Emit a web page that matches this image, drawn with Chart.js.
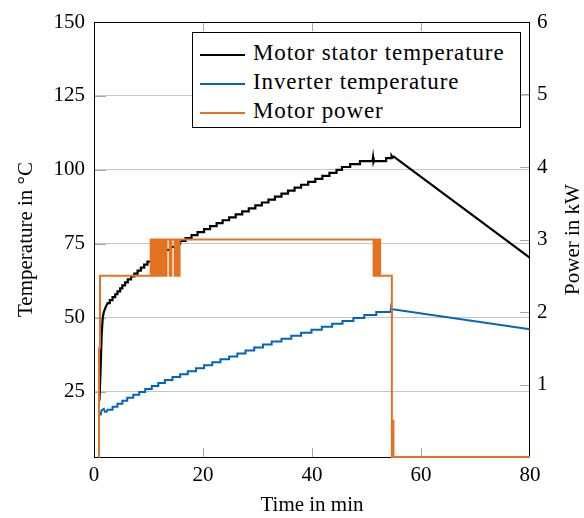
<!DOCTYPE html>
<html>
<head>
<meta charset="utf-8">
<script src="https://cdn.jsdelivr.net/npm/chart.js@4.4.0/dist/chart.umd.min.js"></script>
<style>
  body { margin: 0; background: #fff; }
  #wrap { position: relative; width: 584px; height: 518px; }
  #legend {
    position: absolute; left: 192px; top: 32px; width: 329px; height: 96px;
    box-sizing: border-box; border: 1px solid #000; background: #fff;
    padding-top: 5px; font-family: 'Liberation Serif', serif; font-size: 23px;
    letter-spacing: 0.9px; color: #000;
  }
  #legend div { height: 29px; line-height: 29px; white-space: nowrap; padding-left: 7px; }
  #legend .swatch { display: inline-block; width: 45px; height: 2px; vertical-align: middle; margin-right: 8px; }
</style>
</head>
<body>
<div id="wrap">
  <canvas id="chart" width="584" height="518"></canvas>
  <div id="legend"></div>
</div>
<script>
// motor stator temperature in °C: warm-up, 1 °C steps, then cool-down
const statorRiseTime = [1.0, 1.2, 1.4, 1.6, 1.8, 2.1, 2.5];
const statorRiseTemp = [22, 32, 44, 50, 52, 53.5, 55];
const statorStepTime = [2.9, 3.4, 3.9, 4.3, 4.8, 5.2, 5.7, 6.2, 6.8, 7.4, 8.0, 8.6, 9.2, 9.8, 10.5, 11.3,
  12.2, 13.1, 14.0, 14.9, 15.8, 16.8, 17.9, 19.0, 20.2, 21.3, 22.5, 23.6, 24.8, 26.0, 27.2, 28.4,
  29.6, 30.8, 32.0, 33.2, 34.4, 35.6, 36.8, 38.0, 39.3, 40.6, 41.9, 43.2, 44.5, 45.5, 47.0, 48.8];
const statorStepTemp = [56, 57, 58, 59, 60, 61, 62, 63, 64, 65, 66, 67, 68, 69, 70, 71,
  72, 73, 74, 75, 76, 77, 78, 79, 80, 81, 82, 83, 84, 85, 86, 87,
  88, 89, 90, 91, 92, 93, 94, 95, 96, 97, 98, 99, 100, 101, 102, 103];
const statorTailTime = [51.1, 51.2, 51.3, 51.4, 53.6, 53.6, 54.5, 54.6, 54.8, 55.0, 80];
const statorTailTemp = [103, 104.3, 102.6, 103, 103, 104, 104, 104.8, 104.2, 104.5, 70.3];

// inverter temperature in °C
const inverterRiseTime = [1.2, 1.4, 1.8, 2.0, 2.3, 2.5];
const inverterRiseTemp = [17, 18.8, 19.3, 18.3, 18.3, 19];
const inverterStepTime = [3.4, 4.3, 5.2, 6.1, 7.2, 8.3, 9.4, 10.6, 11.8, 13.0, 14.4, 15.8, 17.2,
  18.7, 20.2, 21.7, 23.2, 24.8, 26.3, 27.8, 29.4, 31.0, 32.6, 34.4, 36.2, 38.0, 39.9, 41.8,
  43.7, 45.6, 47.6, 49.6, 51.8];
const inverterStepTemp = [20, 21, 22, 23, 24, 25, 26, 27, 28, 29, 30, 31, 32,
  33, 34, 35, 36, 37, 38, 39, 40, 41, 42, 43, 44, 45, 46, 47,
  48, 49, 50, 51, 52];
const inverterTailTime = [54.4, 54.5, 54.6, 54.8, 80];
const inverterTailTemp = [52, 53.4, 52.6, 52.9, 46.2];

// motor power in kW, each value holds from its time on
const powerTime = [0.9, 0.92, 1.1,
  10.4, 10.5, 10.6, 10.7, 10.8, 10.9, 11.0, 11.1, 11.2, 11.3, 11.4, 11.5, 11.6, 11.7, 11.8,
  12.1, 12.2, 12.3, 12.4, 12.5, 12.6,
  12.8, 12.9, 13.0, 13.1, 13.2, 13.3, 13.45,
  13.9, 14.0, 14.1, 14.2, 14.35,
  14.8, 14.9, 15.0, 15.1, 15.2, 15.3, 15.4, 15.5, 15.6, 15.7, 15.8,
  51.3, 51.4, 51.5, 51.6, 51.7, 51.8, 51.9, 52.0, 52.1, 52.2, 52.3, 52.4, 52.5,
  54.65, 54.8, 54.95, 80];
const powerKW = [0, 1.5, 2.5,
  3, 2.5, 3, 2.5, 3, 2.5, 3, 2.5, 3, 2.5, 3, 2.5, 3, 2.5, 3,
  2.5, 3, 2.5, 3, 2.5, 3,
  2.5, 3, 2.5, 3, 2.5, 3, 3,
  2.5, 3, 2.5, 3, 3,
  2.5, 3, 2.5, 3, 2.5, 3, 2.5, 3, 2.5, 3, 3,
  2.5, 3, 2.5, 3, 2.5, 3, 2.5, 3, 2.5, 3, 2.5, 3, 2.5,
  0, 0.5, 0, 0];

const timeTicks = [0, 20, 40, 60, 80];
const tempTicks = [25, 50, 75, 100, 125, 150];
const powerTicks = [1, 2, 3, 4, 5, 6];

const serif = 'Liberation Serif';

function stairs(rampT, rampV, stepT, stepV, tailT, tailV) {
  const pts = rampT.map((t, i) => ({ x: t, y: rampV[i] }));
  let prev = rampV[rampV.length - 1];
  stepT.forEach((t, i) => {
    pts.push({ x: t, y: prev }, { x: t, y: stepV[i] });
    prev = stepV[i];
  });
  tailT.forEach((t, i) => pts.push({ x: t, y: tailV[i] }));
  return pts;
}

const statorPoints = stairs(statorRiseTime, statorRiseTemp, statorStepTime, statorStepTemp, statorTailTime, statorTailTemp);
const inverterPoints = stairs(inverterRiseTime, inverterRiseTemp, inverterStepTime, inverterStepTemp, inverterTailTime, inverterTailTemp);
const powerPoints = powerTime.map((t, i) => ({ x: t, y: powerKW[i] }));

// box around the plot and short inward tick marks
const frame = {
  id: 'frame',
  beforeDatasetsDraw(chart) {
    const { ctx, chartArea: a, scales } = chart;
    const len = 9;
    ctx.save();
    ctx.lineWidth = 1;
    ctx.strokeStyle = '#a6a6a6';
    ctx.beginPath();
    scales.x.ticks.forEach(t => {
      const px = Math.round(scales.x.getPixelForValue(t.value)) + 0.5;
      if (px < a.left + 2 || px > a.right - 2) return;
      ctx.moveTo(px, a.bottom); ctx.lineTo(px, a.bottom - len);
      ctx.moveTo(px, a.top); ctx.lineTo(px, a.top + len);
    });
    scales.y.ticks.forEach(t => {
      const py = Math.round(scales.y.getPixelForValue(t.value)) + 0.5;
      ctx.moveTo(a.left, py); ctx.lineTo(a.left + len + 3, py);
    });
    scales.y1.ticks.forEach(t => {
      const py = Math.round(scales.y1.getPixelForValue(t.value)) + 0.5;
      ctx.moveTo(a.right, py); ctx.lineTo(a.right - len - 1, py);
    });
    ctx.stroke();
    ctx.strokeStyle = '#000';
    ctx.strokeRect(a.left + 0.5, a.top + 0.5, a.right - a.left - 1, a.bottom - a.top);
    ctx.restore();
  },
  afterDraw(chart) {
    // right axis title, reading bottom to top
    const { ctx, chartArea: a } = chart;
    ctx.save();
    ctx.translate(chart.width - 11, (a.top + a.bottom) / 2);
    ctx.rotate(-Math.PI / 2);
    ctx.font = '21px "' + serif + '"';
    ctx.fillStyle = '#000';
    ctx.textAlign = 'center';
    ctx.textBaseline = 'middle';
    ctx.fillText('Power in kW', 0, 0);
    ctx.restore();
  }
};

const tickFont = { family: serif, size: 21 };
const titleFont = { family: serif, size: 21, lineHeight: 1.15 };

const chart = new Chart(document.getElementById('chart'), {
  type: 'line',
  data: {
    datasets: [
      { label: 'Motor stator temperature', data: statorPoints, yAxisID: 'y', borderColor: '#000000', borderWidth: 2.2, order: 2 },
      { label: 'Inverter temperature', data: inverterPoints, yAxisID: 'y', borderColor: '#0065BD', order: 1 },
      { label: 'Motor power', data: powerPoints, yAxisID: 'y1', borderColor: '#E37222', stepped: 'before', clip: false, order: 0 }
    ]
  },
  options: {
    responsive: false,
    animation: false,
    devicePixelRatio: 1,
    layout: { padding: { top: 22, left: 0, right: 0, bottom: 0 } },
    elements: {
      point: { radius: 0 },
      line: { borderWidth: 2, tension: 0 }
    },
    plugins: { legend: { display: false }, tooltip: { enabled: false } },
    scales: {
      x: {
        type: 'linear', min: 0, max: 80,
        afterBuildTicks: s => { s.ticks = timeTicks.map(v => ({ value: v })); },
        afterFit: s => { s.height = 61; },
        grid: { display: false, drawTicks: false },
        border: { display: false },
        ticks: { color: '#000', font: tickFont, padding: 6, maxRotation: 0 },
        title: { display: true, text: 'Time in min', color: '#000', font: titleFont, padding: 0 }
      },
      y: {
        type: 'linear', position: 'left', min: 3, max: 150,
        afterBuildTicks: s => { s.ticks = tempTicks.map(v => ({ value: v })); },
        afterFit: s => { s.width = 94; },
        grid: { color: '#c6c6c6', lineWidth: 1, drawTicks: false },
        border: { display: false },
        ticks: { color: '#000', font: tickFont, padding: 9 },
        title: { display: true, text: 'Temperature in °C', color: '#000', font: titleFont, padding: { top: 14, bottom: 0 } }
      },
      y1: {
        type: 'linear', position: 'right', min: 0, max: 6,
        afterBuildTicks: s => { s.ticks = powerTicks.map(v => ({ value: v })); },
        afterFit: s => { s.width = 54; },
        grid: { display: false, drawTicks: false, drawOnChartArea: false },
        border: { display: false },
        ticks: { color: '#000', font: tickFont, padding: 7 }
      }
    }
  },
  plugins: [frame]
});

// legend box inside the plot
const legend = document.getElementById('legend');
chart.data.datasets.forEach(ds => {
  const row = document.createElement('div');
  const sw = document.createElement('span');
  sw.className = 'swatch';
  sw.style.background = ds.borderColor;
  row.appendChild(sw);
  row.appendChild(document.createTextNode(ds.label));
  legend.appendChild(row);
});
</script>
</body>
</html>
